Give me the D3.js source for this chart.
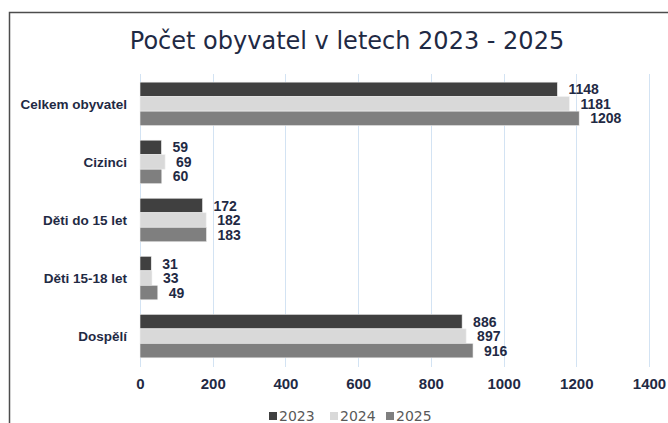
<!DOCTYPE html>
<html>
<head>
<meta charset="utf-8">
<script src="https://cdn.jsdelivr.net/npm/d3@7"></script>
<style>
  body { margin: 0; background: #fff; }
  svg { display: block; }
</style>
</head>
<body>
<svg id="chart" width="668" height="423"></svg>
<script>
// data
const categories = ["Celkem obyvatel", "Cizinci", "Děti do 15 let", "Děti 15-18 let", "Dospělí"];
const years = ["2023", "2024", "2025"];
const values2023 = [1148, 59, 172, 31, 886];
const values2024 = [1181, 69, 182, 33, 897];
const values2025 = [1208, 60, 183, 49, 916];
const xTicks = [0, 200, 400, 600, 800, 1000, 1200, 1400];
const yearColors = ["#404040", "#d9d9d9", "#7f7f7f"];

const series = [values2023, values2024, values2025];
const navy = "#1f2a44";

const svg = d3.select("#chart");

// chart frame (cut off at right and bottom)
svg.append("rect")
    .attr("x", 9.5).attr("y", 12.5)
    .attr("width", 720).attr("height", 500)
    .attr("fill", "none")
    .attr("stroke", "#4d4d4d")
    .attr("stroke-width", 1.5);

// title
svg.append("text")
    .attr("x", 347).attr("y", 49)
    .attr("text-anchor", "middle")
    .attr("font-family", "'DejaVu Sans', sans-serif")
    .attr("font-size", "24px")
    .attr("fill", navy)
    .text("Počet obyvatel v letech 2023 - 2025");

const x = d3.scaleLinear().domain([0, 1400]).range([140, 649]);
const y = d3.scaleBand().domain(categories).range([74, 366]).paddingInner(0.25).paddingOuter(0.14);
const ySub = d3.scaleBand().domain(years).range([0, y.bandwidth()]);

// gridlines
svg.append("g")
    .selectAll("line")
    .data(xTicks)
    .join("line")
    .attr("x1", d => Math.round(x(d)) + 0.5)
    .attr("x2", d => Math.round(x(d)) + 0.5)
    .attr("y1", 74)
    .attr("y2", 367)
    .attr("stroke", "#d3e3f3")
    .attr("stroke-width", 1);

// bars
const groups = svg.append("g")
    .selectAll("g")
    .data(categories)
    .join("g")
    .attr("transform", d => `translate(0,${y(d)})`);

years.forEach((yr, j) => {
    groups.append("rect")
        .attr("x", x(0))
        .attr("y", ySub(yr))
        .attr("width", (d, i) => x(series[j][i]) - x(0))
        .attr("height", ySub.bandwidth())
        .attr("fill", yearColors[j])
        .attr("stroke", "#f0f0f0")
        .attr("stroke-width", 0.6);

    groups.append("text")
        .attr("x", (d, i) => x(series[j][i]) + 11)
        .attr("y", ySub(yr) + ySub.bandwidth() / 2)
        .attr("dy", "0.36em")
        .attr("font-family", "'Liberation Sans', Arial, sans-serif")
        .attr("font-weight", "bold")
        .attr("font-size", "14px")
        .attr("fill", navy)
        .text((d, i) => series[j][i]);
});

// category labels
svg.append("g")
    .selectAll("text")
    .data(categories)
    .join("text")
    .attr("x", 127)
    .attr("y", d => y(d) + y.bandwidth() / 2)
    .attr("dy", "0.36em")
    .attr("text-anchor", "end")
    .attr("font-family", "'Liberation Sans', Arial, sans-serif")
    .attr("font-weight", "bold")
    .attr("font-size", "13.5px")
    .attr("fill", navy)
    .text(d => d);

// x axis labels
const xAxis = svg.append("g")
    .attr("transform", "translate(0,378)")
    .call(d3.axisBottom(x).tickValues(xTicks).tickFormat(d3.format("d")).tickSize(0).tickPadding(0));
xAxis.select(".domain").remove();
xAxis.selectAll("text")
    .attr("font-family", "'Liberation Sans', Arial, sans-serif")
    .attr("font-weight", "bold")
    .attr("font-size", "15px")
    .attr("fill", navy);

// legend
const legendX = [269, 330, 386];
const legend = svg.append("g")
    .selectAll("g")
    .data(years)
    .join("g")
    .attr("transform", (d, i) => `translate(${legendX[i]},416)`);
legend.append("rect")
    .attr("x", 0).attr("y", -4)
    .attr("width", 8).attr("height", 8)
    .attr("fill", (d, i) => yearColors[i]);
legend.append("text")
    .attr("x", 10)
    .attr("dy", "0.36em")
    .attr("font-family", "'DejaVu Sans', sans-serif")
    .attr("font-size", "14px")
    .attr("fill", "#595959")
    .text(d => d);
</script>
</body>
</html>
